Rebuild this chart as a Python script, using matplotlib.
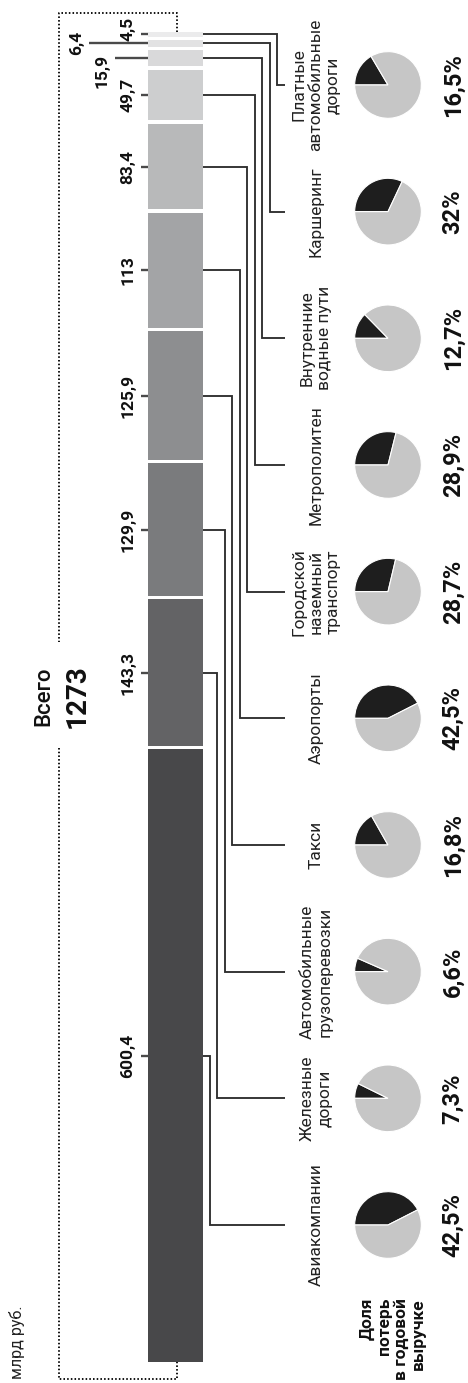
import matplotlib.pyplot as plt
import numpy as np

plt.rcParams['font.family'] = ['Roboto', 'DejaVu Sans']

# losses by transport sector, bottom of the bar to the top
sectors = ['Авиакомпании', 'Железные\nдороги', 'Автомобильные\nгрузоперевозки',
           'Такси', 'Аэропорты', 'Городской\nназемный\nтранспорт', 'Метрополитен',
           'Внутренние\nводные пути', 'Каршеринг', 'Платные\nавтомобильные\nдороги']
losses = np.array([600.4, 143.3, 129.9, 125.9, 113, 83.4, 49.7, 15.9, 6.4, 4.5])
revenue_share = [42.5, 7.3, 6.6, 16.8, 42.5, 28.7, 28.9, 12.7, 32, 16.5]
total = 1273

bar_colors = ['#48484a', '#636365', '#7a7b7d', '#8d8e90', '#a3a4a6',
              '#b8b9ba', '#cdcecf', '#d9d9da', '#e2e2e3', '#ebebec']
line_col = '#2e2e2e'

W, H = 468, 1383
fig = plt.figure(figsize=(W / 100, H / 100), dpi=100)
ax = fig.add_axes([0, 0, 1, 1])
ax.set_xlim(0, W)
ax.set_ylim(H, 0)
ax.axis('off')


def px_box(x0, y0, w, h):
    return [x0 / W, 1 - (y0 + h) / H, w / W, h / H]


def fmt(v):
    return f'{v:g}'.replace('.', ',')


n = len(losses)
gap = 3.4
bottoms = np.concatenate([[0], np.cumsum(losses)[:-1]]) + gap * np.arange(n)
mids = bottoms + losses / 2

# stacked bar
bax = fig.add_axes(px_box(148, 32, 55, 1330))
bax.bar(0, losses, bottom=bottoms, width=1, color=bar_colors)
bax.set_xlim(-0.5, 0.5)
bax.set_ylim(0, bottoms[-1] + losses[-1])
bax.axis('off')


def to_canvas(x, ys):
    pts = np.column_stack([np.full(len(ys), x), ys])
    return ax.transData.inverted().transform(bax.transData.transform(pts))


left = to_canvas(-0.5, mids)
right = to_canvas(0.5, mids)
bar_ends = to_canvas(0, [0, bottoms[-1] + losses[-1]])

slot_y = 1225 - 126.67 * np.arange(n)
tick_start = {7: 115, 8: 89}
label_pos = {7: (102, 12.5), 8: (77, 0), 9: (128, -5)}

for i in range(n):
    lx, my = left[i]
    rx = right[i][0]
    # value tick and label on the left
    ax.plot([tick_start.get(i, 141), lx], [my, my], color='#4a4a4a', lw=1.7,
            solid_capstyle='butt')
    tx, dy = label_pos.get(i, (128, 0))
    ax.text(tx, my + dy, fmt(losses[i]), rotation=90, ha='center', va='center',
            fontsize=12.5, fontweight='bold', color='#111111')
    # leader line to the sector name
    vx = 209.5 + 7.55 * i
    sy = slot_y[i]
    ax.plot([rx, vx, vx, 285], [my, my, sy, sy], color=line_col, lw=1.35,
            solid_joinstyle='miter', solid_capstyle='butt')
    ax.text(316, sy, sectors[i], rotation=90, ha='center', va='center',
            multialignment='center', fontsize=12.5, linespacing=1.2,
            color='#222222')
    # share of lost revenue
    pax = fig.add_axes(px_box(388 - 34, sy - 34, 68, 68))
    pax.pie([revenue_share[i], 100 - revenue_share[i]],
            colors=['#1e1e1e', '#c6c6c6'], startangle=180, counterclock=False,
            wedgeprops=dict(edgecolor='white', linewidth=0.8))
    pax.set_xlim(-1.02, 1.02)
    pax.set_ylim(-1.02, 1.02)
    ax.text(453, sy, fmt(revenue_share[i]) + '%', rotation=90, ha='center',
            va='center', fontsize=17, fontweight='bold', color='#111111')

# dotted bracket around the bar with the total
top_y = bar_ends[1][1] - 19
bot_y = bar_ends[0][1] + 17
cx = bar_ends[0][0] + 1.5
dot = dict(color='#111111', lw=1.4, linestyle=(0, (0.8, 1.1)))
ax.plot([cx, cx, 59, 59], [bar_ends[1][1], top_y, top_y, 642], **dot)
ax.plot([59, 59, cx, cx], [748, bot_y, bot_y, bar_ends[0][1]], **dot)
mid_y = (top_y + bot_y) / 2
ax.text(44, mid_y, 'Всего', rotation=90, ha='center', va='center',
        fontsize=16, fontweight='medium', color='#111111')
ax.text(77, mid_y, str(total), rotation=90, ha='center', va='center',
        fontsize=20, fontweight='bold', color='#111111')

ax.text(17, 1342, 'млрд руб.', rotation=90, ha='center', va='center',
        fontsize=11.5, color='#222222')
ax.text(393, 1298, 'Доля\nпотерь\nв годовой\nвыручке', rotation=90,
        ha='center', va='top', multialignment='right', fontsize=12.5,
        fontweight='bold', linespacing=1.15, color='#111111')

fig.savefig('out.png', dpi=100)
